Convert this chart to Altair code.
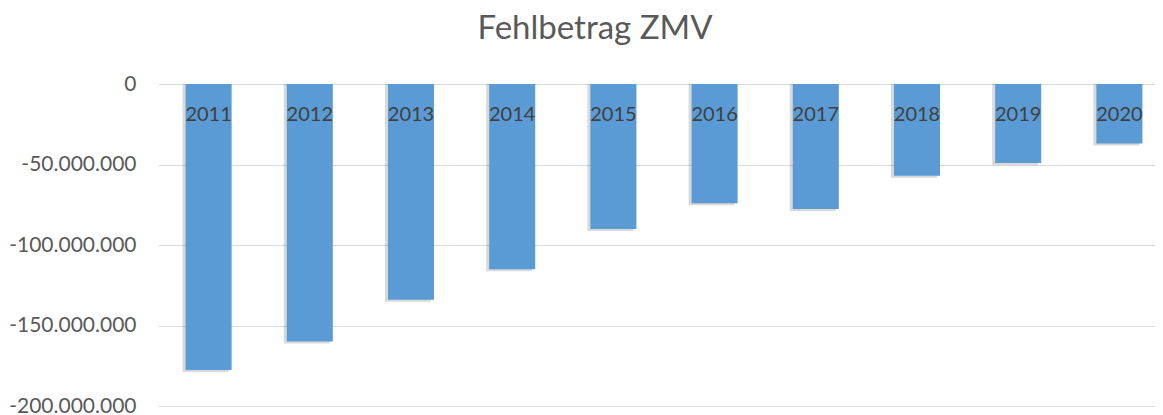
import altair as alt
import pandas as pd

years = ["2011", "2012", "2013", "2014", "2015", "2016", "2017", "2018", "2019", "2020"]
values = [-177600000, -160000000, -134000000, -115000000, -90000000,
          -74000000, -77600000, -57000000, -49000000, -37000000]

df = pd.DataFrame({"Jahr": years, "Fehlbetrag": values})

FONT = "Lato"

x = alt.X("Jahr:N", sort=years, axis=None,
          scale=alt.Scale(paddingInner=0.545, paddingOuter=0.2725))
y = alt.Y("Fehlbetrag:Q", title=None,
          scale=alt.Scale(domain=[-200000000, 0], nice=False),
          axis=alt.Axis(values=[0, -50000000, -100000000, -150000000, -200000000],
                        labelExpr="replace(replace(format(datum.value, ','), /,/g, '.'), '\u2212', '-')",
                        domain=False, ticks=False, labelPadding=22,
                        labelFont=FONT, labelFontSize=21, labelColor="#595959",
                        gridColor="#D9D9D9", gridWidth=1.2))

base = alt.Chart(df)

shadow = base.mark_bar(color="#000000", opacity=0.15, xOffset=-3, yOffset=2).encode(
    x=x, y=y, y2=alt.datum(0))
bars = base.mark_bar(color="#5B9BD5").encode(x=x, y=y, y2=alt.datum(0))
labels = base.mark_text(font=FONT, fontSize=20, color="#404040", baseline="middle").encode(
    x=x, y=alt.value(31), text="Jahr:N")

chart = (shadow + bars + labels).properties(
    width=1012, height=322,
    autosize=alt.AutoSizeParams(type="none"),
    padding={"left": 150, "top": 76, "right": -15, "bottom": 9},
    title=alt.TitleParams("Fehlbetrag ZMV", font=FONT, fontSize=33, fontWeight="normal",
                          color="#595959", anchor="middle", frame="group", dx=-69,
                          offset=27),
).configure_view(stroke=None)

chart.save("out.html", embed_options={"renderer": "svg", "actions": False})
